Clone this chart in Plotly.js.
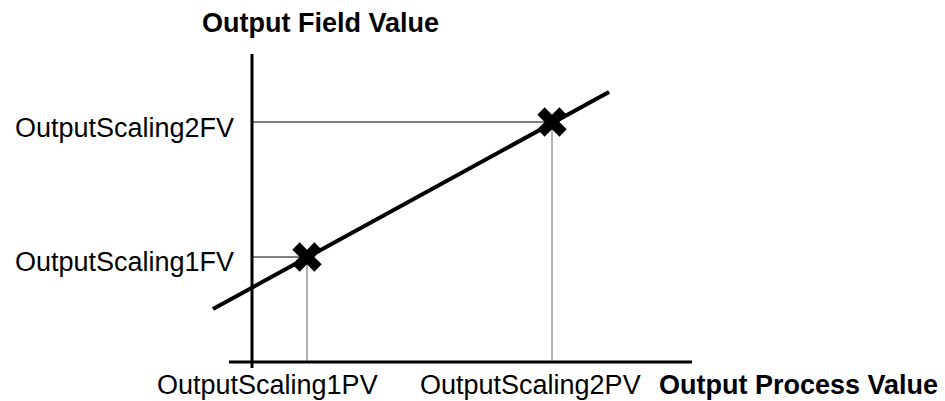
<!DOCTYPE html>
<html>
<head>
<meta charset="utf-8">
<script src="https://cdn.plot.ly/plotly-3.0.1.min.js"></script>
<style>html,body{margin:0;padding:0;background:#fff;}#chart{width:945px;height:401px;}</style>
</head>
<body>
<div id="chart"></div>
<script>
// Scaling points (arbitrary units, origin at axis intersection)
const pvValues = [5.5, 30.0];          // OutputScaling1PV, OutputScaling2PV
const fvValues = [10.5, 24.0];         // OutputScaling1FV, OutputScaling2FV
const pvLabels = ["OutputScaling1PV", "OutputScaling2PV"];
const fvLabels = ["OutputScaling1FV", "OutputScaling2FV"];
// Scaling line endpoints
const lineX = [-3.9, 35.7];
const lineY = [5.3, 27.0];
// Axis extents
const xAxisSpan = [-2.3, 44.0];
const yAxisSpan = [-0.6, 30.8];
const xTitle = "Output Process Value";
const yTitle = "Output Field Value";

const traces = [];
// guide lines
for (let i = 0; i < pvValues.length; i++) {
  traces.push({x: [0, pvValues[i]], y: [fvValues[i], fvValues[i]], mode: 'lines',
    line: {color: '#000', width: 1}, hoverinfo: 'skip', showlegend: false});
  traces.push({x: [pvValues[i], pvValues[i]], y: [fvValues[i], 0], mode: 'lines',
    line: {color: '#666', width: 1}, hoverinfo: 'skip', showlegend: false});
}
// scaling line
traces.push({x: lineX, y: lineY, mode: 'lines', line: {color: '#000', width: 4},
  hoverinfo: 'skip', showlegend: false});
// points
traces.push({x: pvValues, y: fvValues, mode: 'markers',
  marker: {symbol: 'x', size: 26, color: '#000', line: {width: 0}},
  hoverinfo: 'skip', showlegend: false, cliponaxis: false});

const font = {family: 'Liberation Sans, Arial, sans-serif', size: 27, color: '#000'};
const annotations = [
  {x: -5.2, y: 33.9, xref: 'x', yref: 'y', text: '<b>' + yTitle + '</b>', showarrow: false,
   xanchor: 'left', yanchor: 'middle', font: font},
  {x: -1.6, y: fvValues[1] - 0.55, xref: 'x', yref: 'y', text: fvLabels[1], showarrow: false,
   xanchor: 'right', yanchor: 'middle', font: font},
  {x: -1.6, y: fvValues[0] - 0.5, xref: 'x', yref: 'y', text: fvLabels[0], showarrow: false,
   xanchor: 'right', yanchor: 'middle', font: font},
  {x: 12.8, y: -2.3, xref: 'x', yref: 'y', text: pvLabels[0], showarrow: false,
   xanchor: 'right', yanchor: 'middle', font: font},
  {x: 16.6, y: -2.3, xref: 'x', yref: 'y', text: pvLabels[1], showarrow: false,
   xanchor: 'left', yanchor: 'middle', font: font},
  {x: 68.8, y: -2.3, xref: 'x', yref: 'y', text: '<b>' + xTitle + '</b>', showarrow: false,
   xanchor: 'right', yanchor: 'middle', font: font}
];

const shapes = [
  {type: 'line', xref: 'x', yref: 'y', x0: 0, x1: 0, y0: yAxisSpan[0], y1: yAxisSpan[1],
   line: {color: '#000', width: 3}},
  {type: 'line', xref: 'x', yref: 'y', x0: xAxisSpan[0], x1: xAxisSpan[1], y0: 0, y1: 0,
   line: {color: '#000', width: 3}}
];

const layout = {
  width: 945, height: 401,
  margin: {l: 0, r: 0, t: 0, b: 0},
  paper_bgcolor: '#fff', plot_bgcolor: '#fff',
  xaxis: {range: [-25.2, 69.3], visible: false, fixedrange: true},
  yaxis: {range: [-3.9, 36.2], visible: false, fixedrange: true},
  annotations: annotations,
  shapes: shapes,
  font: font
};

Plotly.newPlot('chart', traces, layout, {staticPlot: true, displayModeBar: false});
</script>
</body>
</html>
